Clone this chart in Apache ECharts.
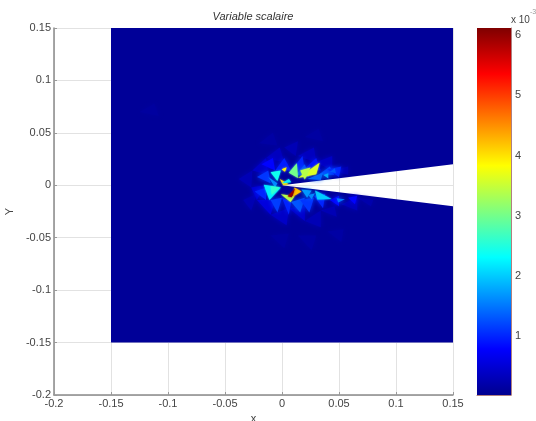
<!DOCTYPE html>
<html><head><meta charset="utf-8">
<style>html,body{margin:0;padding:0;background:#fff}#c{width:536px;height:421px;filter:blur(0.6px)}</style>
<script src="https://cdn.jsdelivr.net/npm/echarts@6/dist/echarts.min.js"></script>
</head><body><div id="c"></div>
<script>
const titleText = 'Variable scalaire';
const xTicks = [-0.2, 0.15, 0.05];
const yTicks = [-0.2, 0.15, 0.05];
const colorTicks = [1, 2, 3, 4, 5, 6];
const colorRange = [0.02, 6.12];
const jetStops = ['#00008f','#0000ff','#007fff','#00ffff','#7fff7f','#ffff00','#ff7f00','#ff0000','#7f0000'];
// domain outline (data units): square with a wedge cut out
const domain = [[-0.15,-0.15],[0.15,-0.15],[0.15,-0.02],[0,0],[0.15,0.02],[0.15,0.15],[-0.15,0.15]];
const domainValue = 0.08;
// mesh triangles, x1,y1,x2,y2,x3,y3 in thousandths of a data unit, then the value
const halo = [
 [-38,6,-26,14,-27,-2,0.28],[-34,-14,-22,-8,-27,-24,0.26],[-26,14,-14,26,-12,10,0.4],[-27,-2,-15,0,-22,-14,0.5],
 [-14,26,-2,36,2,22,0.35],[2,36,14,42,12,28,0.28],[14,28,28,36,30,22,0.35],[30,22,44,28,44,14,0.38],
 [-22,-14,-10,-28,-6,-14,0.55],[-10,-28,4,-38,6,-22,0.4],[6,-22,20,-34,20,-20,0.45],[20,-34,34,-40,34,-24,0.28],
 [34,-24,48,-30,46,-20,0.28],[52,-18,66,-24,66,-12,0.32],[66,-12,78,-20,80,-14,0.22],[44,14,58,18,58,10,0.28],
 [14,-48,26,-62,30,-48,0.16],[-10,-48,2,-60,6,-46,0.15],[40,-44,52,-54,54,-42,0.16],[-20,40,-8,50,-4,38,0.16],
 [20,46,32,54,36,42,0.15],[-125,70,-112,78,-108,66,0.13]
];
const ring = [
 [-18,20,-8,26,-6,14,0.8],[-6,14,2,26,8,14,0.95],[8,14,18,28,20,14,1.0],[20,16,30,26,34,14,0.9],
 [32,10,42,18,46,10,1.2],[40,15,52,18,50,8,1.0],[-22,8,-12,14,-10,2,1.1],[-24,-6,-14,-2,-14,-14,1.0],
 [-10,-14,0,-12,-4,-26,1.15],[0,-12,8,-16,6,-28,1.0],[8,-16,20,-12,16,-26,1.3],[16,-14,28,-12,24,-26,1.1],
 [28,-10,38,-8,36,-22,1.0],[42,-14,50,-10,50,-20,0.8],[58,-12,66,-10,64,-18,0.8],[12,10,20,20,24,8,1.3],
 [22,6,36,12,34,5,1.4],[17,-4,26,-5,22,-12,1.7],[-12,8,-4,2,-6,-2,1.6]
];
const hot = [
 [36.2,9.8,40.6,11.4,40.6,6.5,1.8],[42,13,46.4,16.2,47.3,11.4,1.3],
 [-10,12.5,-1,14,-4,4,2.4],[-16,0.5,-1,-2,-11,-14,2.2],[-10,-1,-2,-2,-9,-9,2.6],
 [6,12,13,21,14,7,3.0],[14,7,33,21.5,30,10.5,3.6],[16,14,25,17,20,5.5,3.4],
 [-0.3,15.2,4.1,17.1,2.6,13,3.9],[-2,6,6,0.9,1,0.2,4.0],[-1,-8.5,11,-10.5,7.5,-16,3.4],
 [11,-2,17,-6,9.5,-11,4.2],[5,-10.5,11.5,-3,8.5,-11.5,6],[29,-5,43.5,-13,31,-13.5,2.0],
 [47.9,-12.4,55.2,-13.3,49.3,-16.5,1.5],[23,-9.2,28.9,-7.6,26,-13.3,1.6],[0,2,6,6,8,3,2.2]
];
const triangles = [...halo, ...ring, ...hot];

function jet(v){
  let t=(v-colorRange[0])/(colorRange[1]-colorRange[0]);
  t=Math.max(0,Math.min(1,t))*(jetStops.length-1);
  const i=Math.min(Math.floor(t),jetStops.length-2),f=t-i;
  const p=s=>[1,3,5].map(k=>parseInt(s.substr(k,2),16));
  const a=p(jetStops[i]),b=p(jetStops[i+1]);
  return `rgb(${a.map((x,k)=>Math.round(x+(b[k]-x)*f)).join(',')})`;
}
const axisCommon = {
  axisLine:{show:true,onZero:false,lineStyle:{color:'#8a8a8a',width:1.5}},
  axisTick:{show:true,inside:true,length:3,lineStyle:{color:'#999'}},
  axisLabel:{color:'#444',fontFamily:'Liberation Sans',fontSize:11,margin:3,hideOverlap:false},
  splitLine:{show:true,lineStyle:{color:'#e2e2e2',width:1}},
  nameTextStyle:{color:'#444',fontFamily:'Liberation Sans',fontSize:11}
};
const chart = echarts.init(document.getElementById('c'),null,{renderer:'canvas'});
chart.setOption({
  animation:false,
  backgroundColor:'#fff',
  title:{text:titleText,left:253,top:11,textAlign:'center',textStyle:{fontFamily:'Liberation Sans',fontStyle:'italic',fontWeight:'normal',fontSize:11,color:'#333',lineHeight:12},padding:0},
  graphic:[
    {type:'text',left:511,top:15,style:{text:'x 10',fontFamily:'Liberation Sans',fontSize:10,fill:'#444'}},
    {type:'text',left:530,top:9,style:{text:'-3',fontFamily:'Liberation Sans',fontSize:7,fill:'#999'}}
  ],
  grid:[
    {left:54,top:28,width:399,height:367,outerBoundsMode:'none'},
    {left:477,top:28,width:34,height:367,outerBoundsMode:'none'}
  ],
  xAxis:[
    {...axisCommon,gridIndex:0,type:'value',min:xTicks[0],max:xTicks[1],interval:xTicks[2],name:'x',nameLocation:'middle',nameGap:16,position:'bottom'},
    {gridIndex:1,type:'category',data:['c'],axisLine:{show:true,lineStyle:{color:'#b08080'}},axisTick:{show:false},axisLabel:{show:false},splitLine:{show:false}}
  ],
  yAxis:[
    {...axisCommon,gridIndex:0,type:'value',min:yTicks[0],max:yTicks[1],interval:yTicks[2],name:'Y',nameLocation:'middle',nameGap:21,nameRotate:90,position:'left'},
    {gridIndex:1,type:'value',position:'right',min:colorRange[0],max:colorRange[1],
     axisLine:{show:true,lineStyle:{color:'#b08080'}},
     axisTick:{show:true,inside:true,length:3,customValues:colorTicks,lineStyle:{color:'#777'}},
     axisLabel:{color:'#444',fontFamily:'Liberation Sans',fontSize:11,margin:4,customValues:colorTicks},
     splitLine:{show:false}}
  ],
  series:[
    {type:'custom',xAxisIndex:0,yAxisIndex:0,coordinateSystem:'cartesian2d',silent:true,clip:true,
     data:[[domainValue]],encode:{x:[],y:[]},
     renderItem:(p,api)=>({type:'polygon',shape:{points:domain.map(d=>api.coord(d))},style:{fill:jet(domainValue)}})},
    {type:'custom',xAxisIndex:0,yAxisIndex:0,coordinateSystem:'cartesian2d',silent:true,clip:true,
     data:triangles,encode:{x:[],y:[]},
     renderItem:(p,api)=>{
       const t=triangles[p.dataIndex];
       const pts=[[t[0],t[1]],[t[2],t[3]],[t[4],t[5]]].map(d=>api.coord([d[0]/1000,d[1]/1000]));
       const col=jet(t[6]);
       return {type:'polygon',shape:{points:pts},style:{fill:col,shadowBlur:t[6]<2?5:2,shadowColor:col}};
     }},
    {type:'bar',xAxisIndex:1,yAxisIndex:1,data:[colorRange[1]],barWidth:'100%',silent:true,
     itemStyle:{color:new echarts.graphic.LinearGradient(0,1,0,0,jetStops.map((c,i)=>({offset:i/(jetStops.length-1),color:c})))}}
  ]
});
</script></body></html>
